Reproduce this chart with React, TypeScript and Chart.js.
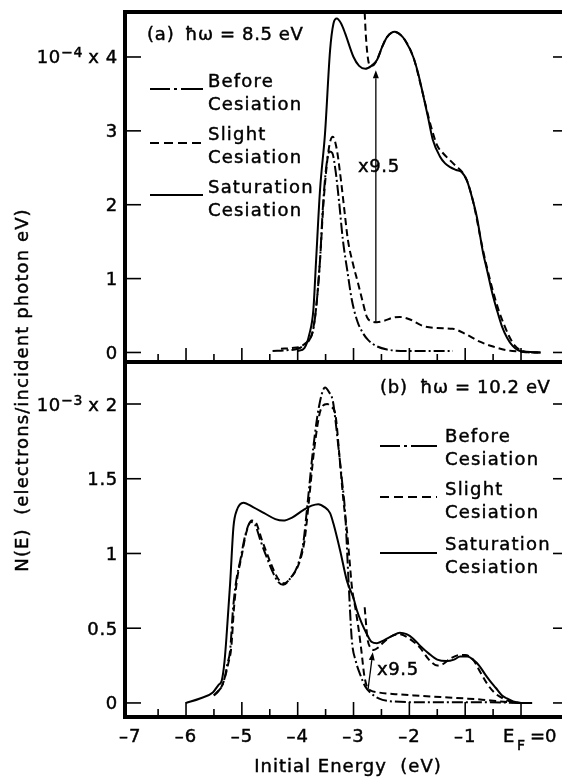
import React, { useEffect, useRef } from "react";
import { Chart, registerables } from "chart.js";

Chart.register(...registerables);

// ---------- shared axis ----------
const X_MIN = -7.093;
const X_MAX = 0.734;
const xTickValues = [-6.5, -6, -5.5, -5, -4.5, -4, -3.5, -3, -2.5, -2, -1.5, -1, -0.5, 0];
const xLabelValues = [-7, -6, -5, -4, -3, -2, -1];
const xLabelTexts = ["–7", "–6", "–5", "–4", "–3", "–2", "–1"];

// ---------- panel (a): hw = 8.5 eV, units 1e-4 ----------
const aYMin = -0.129;
const aYMax = 4.609;
const aYTicks = [0, 1, 2, 3, 4];
const aYLabels = ["0", "1", "2", "3", "4"];

const aBeforeE = [-4.45, -4.2, -4.0, -3.88, -3.8, -3.73, -3.67, -3.6, -3.55, -3.49, -3.43, -3.38, -3.32, -3.26, -3.19, -3.11, -3.03, -2.93, -2.83, -2.74, -2.6, -2.4, -2.0, -1.6, -1.22];
const aBeforeN = [0.02, 0.03, 0.05, 0.1, 0.16, 0.28, 0.6, 1.25, 1.95, 2.5, 2.72, 2.7, 2.45, 2.05, 1.52, 1.1, 0.71, 0.42, 0.26, 0.17, 0.09, 0.04, 0.02, 0.02, 0.02];

const aSlightE = [-4.3, -4.1, -3.95, -3.85, -3.78, -3.74, -3.67, -3.6, -3.54, -3.47, -3.42, -3.37, -3.3, -3.22, -3.16, -3.1, -3.01, -2.92, -2.84, -2.76, -2.67, -2.58, -2.45, -2.3, -2.17, -2.0, -1.76, -1.5, -1.22, -0.97, -0.75, -0.5, -0.25, 0.0, 0.2, 0.38];
const aSlightN = [0.05, 0.06, 0.08, 0.13, 0.19, 0.26, 0.6, 1.25, 2.0, 2.6, 2.85, 2.92, 2.75, 2.3, 1.9, 1.52, 1.2, 0.94, 0.7, 0.48, 0.42, 0.41, 0.43, 0.47, 0.48, 0.45, 0.36, 0.33, 0.32, 0.24, 0.15, 0.08, 0.03, 0.01, 0.0, 0.0];

const aSlightX95E = [-2.8, -2.78, -2.74, -2.7, -2.64, -2.58, -2.48, -2.4, -2.26, -2.08, -1.93, -1.76, -1.62, -1.5, -1.4, -1.27, -1.16, -1.06, -0.97, -0.86, -0.68, -0.52, -0.4, -0.3, -0.22, -0.12, 0.0, 0.15, 0.38];
const aSlightX95N = [4.6, 4.3, 3.97, 3.88, 3.89, 3.96, 4.15, 4.27, 4.34, 4.23, 4.0, 3.51, 3.08, 2.8, 2.7, 2.6, 2.52, 2.45, 2.33, 2.05, 1.38, 0.88, 0.57, 0.37, 0.23, 0.1, 0.03, 0.0, 0.0];

const aSatE = [-4.0, -3.88, -3.79, -3.72, -3.67, -3.6, -3.51, -3.42, -3.36, -3.3, -3.22, -3.15, -3.0, -2.9, -2.79, -2.68, -2.58, -2.48, -2.4, -2.26, -2.16, -2.08, -1.93, -1.85, -1.76, -1.67, -1.58, -1.45, -1.36, -1.27, -1.16, -1.06, -0.97, -0.86, -0.79, -0.68, -0.61, -0.52, -0.43, -0.34, -0.25, -0.15, -0.05, 0.1, 0.35];
const aSatN = [0.02, 0.06, 0.25, 0.57, 1.25, 2.2, 2.97, 4.09, 4.45, 4.52, 4.45, 4.32, 4.0, 3.88, 3.84, 3.88, 3.96, 4.15, 4.27, 4.34, 4.3, 4.23, 4.0, 3.8, 3.51, 3.2, 2.88, 2.65, 2.56, 2.51, 2.47, 2.44, 2.33, 2.05, 1.83, 1.35, 1.12, 0.82, 0.57, 0.35, 0.2, 0.09, 0.03, 0.01, 0.0];

const aArrowFrom = [-2.6, 0.41];
const aArrowTo = [-2.6, 3.82];

// ---------- panel (b): hw = 10.2 eV, units 1e-3 ----------
const bYMin = -0.094;
const bYMax = 2.281;
const bYTicks = [0, 0.5, 1, 1.5, 2];
const bYLabels = ["0", "0.5", "1", "1.5", "2"];

const bBeforeE = [-5.5, -5.42, -5.36, -5.3, -5.26, -5.21, -5.16, -5.1, -5.03, -4.94, -4.84, -4.76, -4.67, -4.55, -4.44, -4.35, -4.26, -4.14, -4.01, -3.9, -3.83, -3.72, -3.62, -3.51, -3.44, -3.37, -3.32, -3.27, -3.21, -3.15, -3.09, -3.03, -2.96, -2.88, -2.79, -2.7, -2.55, -2.3, -1.8, -1.2, -0.6, -0.2, 0.0];
const bBeforeN = [0.05, 0.08, 0.11, 0.18, 0.26, 0.35, 0.62, 0.82, 0.95, 1.12, 1.21, 1.19, 1.09, 0.97, 0.87, 0.81, 0.79, 0.83, 0.91, 1.07, 1.31, 1.71, 1.98, 2.11, 2.08, 2.02, 1.88, 1.71, 1.5, 1.27, 0.82, 0.42, 0.28, 0.19, 0.11, 0.07, 0.03, 0.01, 0.005, 0.005, 0.005, 0.002, 0.0];

const bSlightE = [-5.5, -5.42, -5.35, -5.29, -5.24, -5.19, -5.14, -5.08, -5.01, -4.92, -4.82, -4.74, -4.65, -4.53, -4.42, -4.33, -4.24, -4.12, -3.99, -3.88, -3.81, -3.7, -3.58, -3.47, -3.4, -3.33, -3.24, -3.18, -3.12, -3.07, -3.03, -2.96, -2.9, -2.85, -2.81, -2.76, -2.7, -2.55, -2.2, -1.9, -1.6, -1.3, -1.0, -0.7, -0.45, -0.25, -0.1, 0.05];
const bSlightN = [0.05, 0.08, 0.12, 0.19, 0.27, 0.37, 0.64, 0.84, 0.97, 1.14, 1.22, 1.2, 1.1, 0.98, 0.88, 0.82, 0.8, 0.84, 0.92, 1.08, 1.31, 1.71, 1.97, 2.0, 1.98, 1.94, 1.6, 1.35, 1.16, 0.95, 0.78, 0.62, 0.47, 0.32, 0.19, 0.11, 0.085, 0.07, 0.058, 0.05, 0.043, 0.037, 0.03, 0.022, 0.013, 0.006, 0.002, 0.0];

const bSlightX95E = [-2.8, -2.78, -2.75, -2.7, -2.64, -2.56, -2.45, -2.3, -2.17, -2.0, -1.81, -1.65, -1.5, -1.4, -1.25, -1.1, -1.0, -0.86, -0.72, -0.61, -0.48, -0.32, -0.15, 0.0];
const bSlightX95N = [0.64, 0.55, 0.43, 0.37, 0.355, 0.37, 0.41, 0.45, 0.46, 0.43, 0.37, 0.29, 0.25, 0.26, 0.3, 0.32, 0.32, 0.29, 0.2, 0.13, 0.07, 0.03, 0.005, 0.0];

const bSatE = [-6.0, -5.75, -5.52, -5.42, -5.36, -5.31, -5.27, -5.21, -5.15, -5.09, -4.97, -4.8, -4.6, -4.4, -4.26, -4.1, -3.9, -3.75, -3.63, -3.52, -3.42, -3.36, -3.24, -3.12, -3.0, -2.94, -2.85, -2.76, -2.68, -2.58, -2.45, -2.3, -2.17, -2.05, -1.93, -1.8, -1.65, -1.5, -1.33, -1.2, -1.09, -0.96, -0.86, -0.75, -0.64, -0.56, -0.45, -0.34, -0.25, -0.14, 0.0, 0.2];
const bSatN = [0.0, 0.03, 0.07, 0.12, 0.15, 0.28, 0.47, 0.8, 1.18, 1.29, 1.34, 1.31, 1.27, 1.23, 1.22, 1.24, 1.29, 1.32, 1.33, 1.31, 1.27, 1.2, 1.02, 0.82, 0.7, 0.62, 0.53, 0.46, 0.41, 0.4, 0.42, 0.45, 0.47, 0.46, 0.43, 0.38, 0.33, 0.29, 0.28, 0.29, 0.31, 0.31, 0.29, 0.25, 0.19, 0.15, 0.1, 0.05, 0.03, 0.01, 0.0, 0.0];

const bArrowFrom = [-2.74, 0.09];
const bArrowTo = [-2.655, 0.34];

// ---------- styles ----------
const FONT = '"DejaVu Sans", "Liberation Sans", sans-serif';
const DASH_BEFORE = [11, 3, 2, 3];
const DASH_SLIGHT = [7, 4];
const SOLID: number[] = [];
const LEGEND_DASH = [[20, 4, 3, 4, 30], [9, 5], []];
const LEGEND_TEXT = [["Before", "Cesiation"], ["Slight", "Cesiation"], ["Saturation", "Cesiation"]];

function txt(ctx: CanvasRenderingContext2D, s: string, x: number, y: number, size: number, align: CanvasTextAlign = "left", ls = 1) {
  ctx.font = `${size}px ${FONT}`;
  (ctx as any).letterSpacing = `${ls}px`;
  ctx.textAlign = align;
  ctx.textBaseline = "alphabetic";
  ctx.setLineDash([]);
  ctx.fillText(s, x, y);
  const lw = ctx.lineWidth;
  ctx.lineWidth = 0.45;
  ctx.strokeText(s, x, y);
  ctx.lineWidth = lw;
}

function seg(ctx: CanvasRenderingContext2D, x1: number, y1: number, x2: number, y2: number) {
  ctx.beginPath();
  ctx.moveTo(x1, y1);
  ctx.lineTo(x2, y2);
  ctx.stroke();
}

type Panel = {
  id: string;
  padTop: number;
  bottom: number;
  yMin: number;
  yMax: number;
  yTicks: number[];
  yLabels: string[];
  exponent: string;
  series: { E: number[]; N: number[]; dash: number[] }[];
  panelLabel: string;
  panelLabelX: number;
  hw: string;
  hwX: number;
  labelBaseline: number;
  legendX0: number;
  legendX1: number;
  legendTextX: number;
  legendLineY: number[];
  legendBase: number[];
  x95: [number, number];
  arrowFrom: number[];
  arrowTo: number[];
  longTick: number;
  showXLabels: boolean;
};

const panelA: Panel = {
  id: "a",
  padTop: 12,
  bottom: 362,
  yMin: aYMin,
  yMax: aYMax,
  yTicks: aYTicks,
  yLabels: aYLabels,
  exponent: "−4",
  series: [
    { E: aBeforeE, N: aBeforeN, dash: DASH_BEFORE },
    { E: aSlightE, N: aSlightN, dash: DASH_SLIGHT },
    { E: aSlightX95E, N: aSlightX95N, dash: DASH_SLIGHT },
    { E: aSatE, N: aSatN, dash: SOLID },
  ],
  panelLabel: "(a)",
  panelLabelX: 147,
  hw: "ħω = 8.5 eV",
  hwX: 185,
  labelBaseline: 40,
  legendX0: 150,
  legendX1: 203,
  legendTextX: 208,
  legendLineY: [89, 143, 195],
  legendBase: [87, 110, 140, 163, 193, 216],
  x95: [358, 172],
  arrowFrom: aArrowFrom,
  arrowTo: aArrowTo,
  longTick: 12,
  showXLabels: false,
};

const panelB: Panel = {
  id: "b",
  padTop: 362,
  bottom: 717,
  yMin: bYMin,
  yMax: bYMax,
  yTicks: bYTicks,
  yLabels: bYLabels,
  exponent: "−3",
  series: [
    { E: bBeforeE, N: bBeforeN, dash: DASH_BEFORE },
    { E: bSlightE, N: bSlightN, dash: DASH_SLIGHT },
    { E: bSlightX95E, N: bSlightX95N, dash: DASH_SLIGHT },
    { E: bSatE, N: bSatN, dash: SOLID },
  ],
  panelLabel: "(b)",
  panelLabelX: 380,
  hw: "ħω = 10.2 eV",
  hwX: 420,
  labelBaseline: 393,
  legendX0: 380,
  legendX1: 437,
  legendTextX: 445,
  legendLineY: [446, 497, 553],
  legendBase: [442, 465, 495, 518, 550, 573],
  x95: [377, 675],
  arrowFrom: bArrowFrom,
  arrowTo: bArrowTo,
  longTick: 13,
  showXLabels: true,
};

function decorPlugin(p: Panel) {
  return {
    id: "decor-" + p.id,
    afterDraw(chart: any) {
      const ctx: CanvasRenderingContext2D = chart.ctx;
      const xs = chart.scales.x;
      const ys = chart.scales.y;
      const area = chart.chartArea;
      ctx.save();
      ctx.fillStyle = "#000";
      ctx.strokeStyle = "#000";
      ctx.setLineDash([]);

      // top frame line
      ctx.lineWidth = 4;
      seg(ctx, area.left - 2, area.top, area.right, area.top);

      // y ticks (inward, both sides) and labels
      p.yTicks.forEach((v, i) => {
        const py = ys.getPixelForValue(v);
        ctx.lineWidth = 1.6;
        seg(ctx, area.left + 2, py, area.left + 16, py);
        seg(ctx, area.right - 9, py, area.right, py);
        const base = py + 6.5;
        txt(ctx, p.yLabels[i], 118, base, 18, "right", 0.7);
        if (i === p.yTicks.length - 1) {
          txt(ctx, "x", 99, base, 18, "right", 0);
          txt(ctx, p.exponent, 83, base - 6, 14, "right", 0.5);
          txt(ctx, "10", 61, base, 18, "right", 0.7);
        }
      });

      // x ticks (inward from the bottom axis)
      ctx.lineWidth = 1.6;
      xTickValues.forEach((v) => {
        const px = xs.getPixelForValue(v);
        const len = Number.isInteger(v) ? p.longTick : 6;
        seg(ctx, px, area.bottom - 2, px, area.bottom - 2 - len);
      });

      if (p.showXLabels) {
        xLabelValues.forEach((v, i) => {
          const px = xs.getPixelForValue(v);
          txt(ctx, xLabelTexts[i], px, area.bottom + 25, 18, "center", 1);
        });
        const p0 = xs.getPixelForValue(0);
        const b = area.bottom + 25;
        txt(ctx, "E", p0 - 18, b, 18, "left", 0);
        txt(ctx, "F", p0 - 4, b + 8, 14, "left", 0);
        txt(ctx, "=", p0 + 9, b, 18, "left", 0);
        txt(ctx, "0", p0 + 24, b, 18, "left", 0);
        // axis titles
        txt(ctx, "Initial Energy  (eV)", 348, 772, 18, "center", 1);
        ctx.save();
        ctx.translate(28, 390);
        ctx.rotate(-Math.PI / 2);
        txt(ctx, "N(E)  (electrons/incident photon eV)", 0, 0, 18, "center", 1.1);
        ctx.restore();
      }

      // panel label
      txt(ctx, p.panelLabel, p.panelLabelX, p.labelBaseline, 18, "left", 0.8);
      txt(ctx, p.hw, p.hwX, p.labelBaseline, 18, "left", 0.6);

      // legend
      for (let k = 0; k < 3; k++) {
        ctx.lineWidth = 1.9;
        ctx.setLineDash(LEGEND_DASH[k]);
        seg(ctx, p.legendX0, p.legendLineY[k], p.legendX1, p.legendLineY[k]);
        ctx.setLineDash([]);
        txt(ctx, LEGEND_TEXT[k][0], p.legendTextX, p.legendBase[2 * k], 18, "left", 1.2);
        txt(ctx, LEGEND_TEXT[k][1], p.legendTextX, p.legendBase[2 * k + 1], 18, "left", 1.2);
      }

      // x9.5 annotation with arrow
      txt(ctx, "x9.5", p.x95[0], p.x95[1], 18, "left", 0.6);
      const ax1 = xs.getPixelForValue(p.arrowFrom[0]);
      const ay1 = ys.getPixelForValue(p.arrowFrom[1]);
      const ax2 = xs.getPixelForValue(p.arrowTo[0]);
      const ay2 = ys.getPixelForValue(p.arrowTo[1]);
      ctx.lineWidth = 1.3;
      const ang = Math.atan2(ay2 - ay1, ax2 - ax1);
      const hl = 8;
      const hw = 3;
      const bx = ax2 - hl * Math.cos(ang);
      const by = ay2 - hl * Math.sin(ang);
      seg(ctx, ax1, ay1, bx, by);
      ctx.beginPath();
      ctx.moveTo(ax2, ay2);
      ctx.lineTo(bx + hw * Math.sin(ang), by - hw * Math.cos(ang));
      ctx.lineTo(bx - hw * Math.sin(ang), by + hw * Math.cos(ang));
      ctx.closePath();
      ctx.fill();

      ctx.restore();
    },
  };
}

function makeConfig(p: Panel): any {
  return {
    type: "line",
    data: {
      datasets: p.series.map((s) => ({
        data: s.E.map((x, i) => ({ x, y: s.N[i] })),
        borderColor: "#000",
        borderWidth: 2,
        borderDash: s.dash,
        pointRadius: 0,
        tension: 0.4,
        cubicInterpolationMode: "monotone",
        fill: false,
      })),
    },
    options: {
      responsive: false,
      maintainAspectRatio: false,
      animation: false,
      events: [],
      layout: { padding: { top: p.padTop, left: 0, right: 0, bottom: 0 } },
      plugins: { legend: { display: false }, tooltip: { enabled: false } },
      scales: {
        x: {
          type: "linear",
          min: X_MIN,
          max: X_MAX,
          afterFit: (s: any) => {
            s.height = 781 - p.bottom;
          },
          ticks: { display: false },
          grid: { display: false },
          border: { display: true, color: "#000", width: 4 },
        },
        y: {
          type: "linear",
          min: p.yMin,
          max: p.yMax,
          afterFit: (s: any) => {
            s.width = 125;
          },
          ticks: { display: false },
          grid: { display: false },
          border: { display: true, color: "#000", width: 4 },
        },
      },
    },
    plugins: [decorPlugin(p)],
  };
}

export default function App() {
  const topRef = useRef<HTMLCanvasElement>(null);
  const botRef = useRef<HTMLCanvasElement>(null);
  useEffect(() => {
    const c1 = new Chart(topRef.current as HTMLCanvasElement, makeConfig(panelA));
    const c2 = new Chart(botRef.current as HTMLCanvasElement, makeConfig(panelB));
    return () => {
      c1.destroy();
      c2.destroy();
    };
  }, []);
  return (
    <div style={{ position: "fixed", left: 0, top: 0, width: 562, height: 781, background: "#fff", overflow: "hidden" }}>
      <canvas ref={topRef} width={562} height={781} style={{ position: "absolute", left: 0, top: 0 }} />
      <canvas ref={botRef} width={562} height={781} style={{ position: "absolute", left: 0, top: 0 }} />
    </div>
  );
}
